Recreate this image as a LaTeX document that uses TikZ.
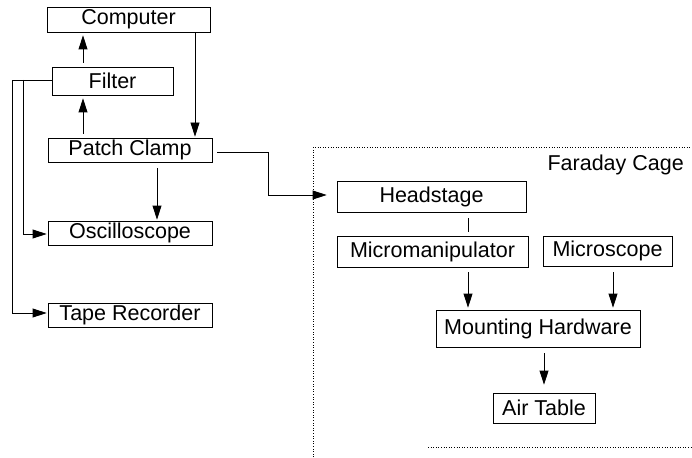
\documentclass[tikz,border=0pt]{standalone}
\usepackage{fontspec}
\setmainfont{Liberation Sans}
\usetikzlibrary{arrows.meta}
\begin{document}
\begin{tikzpicture}[x=1pt,y=-1pt,
  box/.style={draw, line width=0.8pt, inner sep=0pt, font=\fontsize{21.5}{23}\selectfont},
  arr/.style={line width=0.8pt, -{Triangle[length=14pt,width=9pt]}},
  ln/.style={line width=0.8pt}]
\useasboundingbox (0,0) rectangle (692,457);
\node[box, minimum width=163pt, minimum height=25pt] (comp) at (128.5,19.5) {Computer};
\node[box, minimum width=121pt, minimum height=28pt] (filt) at (112.5,81) {Filter};
\node[box, minimum width=164pt, minimum height=24pt] (patch) at (130,150) {Patch Clamp};
\node[box, minimum width=164pt, minimum height=24pt] (osc) at (130,233) {Oscilloscope};
\node[box, minimum width=164pt, minimum height=24pt] (tape) at (130,315) {Tape Recorder};
\node[box, minimum width=189pt, minimum height=31pt] (head) at (431.5,196.5) {Headstage};
\node[box, minimum width=191pt, minimum height=31pt] (micro) at (432.5,251.5) {Micromanipulator};
\node[box, minimum width=129pt, minimum height=30pt] (scope) at (607.5,251) {Microscope};
\node[box, minimum width=204pt, minimum height=37pt] (mount) at (538,328.5) {Mounting Hardware};
\node[box, minimum width=102pt, minimum height=30pt] (air) at (544,408) {Air Table};
\node[anchor=east, inner sep=0pt, font=\fontsize{21.5}{23}\selectfont] (fc) at (684,165) {Faraday Cage};
% Faraday cage outline
\coordinate (fbl) at (313,457);
\coordinate (ftl) at (313,147);
\coordinate (ftr) at (692,147);
\coordinate (bbl) at (428,447);
\coordinate (bbr) at (692,447);
\draw[dotted, line width=0.6pt] (fbl) -- (ftl) -- (ftr);
\draw[dotted, line width=0.6pt] (bbl) -- (bbr);
% left column
\draw[arr, shorten <=4pt, shorten >=3pt] (filt.north -| 83,0) -- (comp.south -| 83,0);
\draw[arr, shorten <=4pt, shorten >=3pt] (patch.north -| 83,0) -- (filt.south -| 83,0);
\draw[arr, shorten >=1pt] (comp.south -| 195,0) -- (patch.north -| 195,0);
\draw[arr, shorten <=6pt, shorten >=1pt] (patch.south -| 157,0) -- (osc.north -| 157,0);
\draw[arr, shorten >=1pt] (filt.west |- 0,80) -| (12,313) -- (tape.west |- 0,313);
\draw[arr, shorten >=1pt] (23,80) -- (23,234) -- (osc.west |- 0,234);
\draw[arr, shorten <=5pt, shorten >=10pt] (patch.east |- 0,152) -- (268,152) -- (268,195) -- (head.west |- 0,195);
% right column
\draw[ln, shorten <=6pt, shorten >=4pt] (head.south -| 468,0) -- (micro.north -| 468,0);
\draw[arr, shorten <=5pt, shorten >=2pt] (micro.south -| 468,0) -- (mount.north -| 468,0);
\draw[arr, shorten <=6pt, shorten >=2pt] (scope.south -| 613,0) -- (mount.north -| 613,0);
\draw[arr, shorten <=6pt, shorten >=8pt] (mount.south -| 544,0) -- (air.north -| 544,0);
\end{tikzpicture}
\end{document}
